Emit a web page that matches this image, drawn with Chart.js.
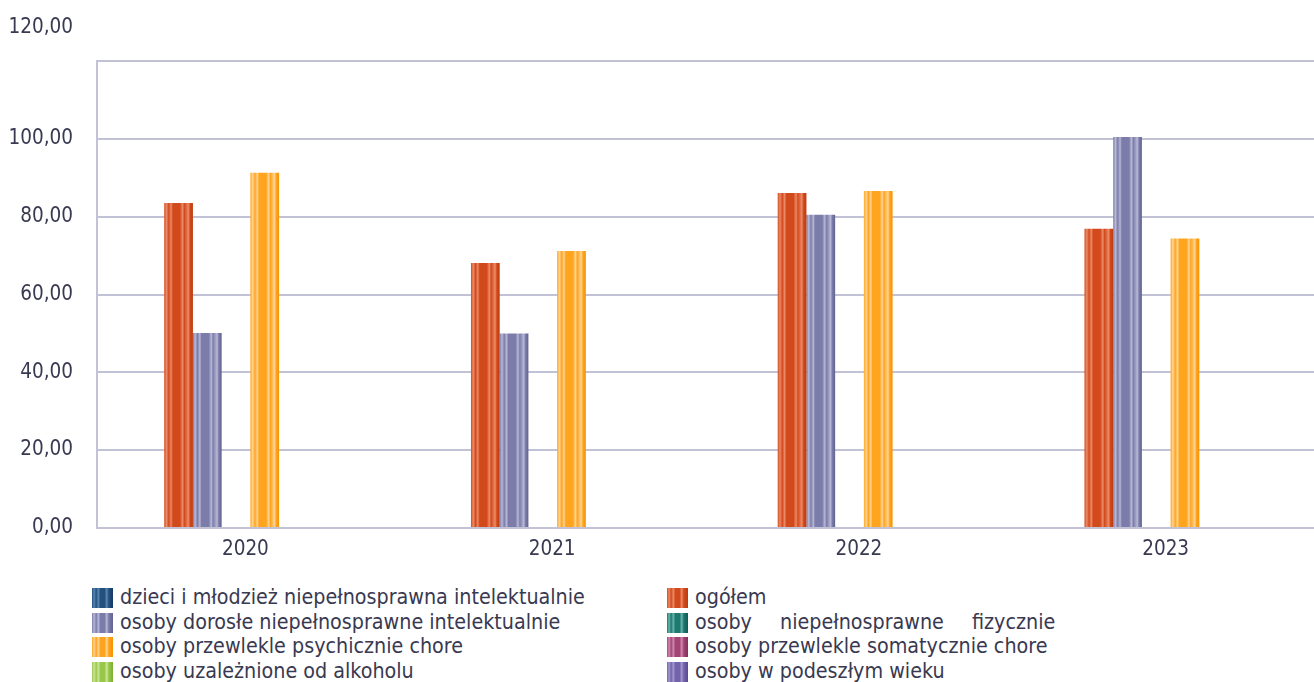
<!DOCTYPE html>
<html lang="pl">
<head>
<meta charset="utf-8">
<script src="https://cdn.jsdelivr.net/npm/chart.js@4/dist/chart.umd.min.js"></script>
<style>
  html, body { margin: 0; padding: 0; background: #fff; }
  body { width: 1314px; height: 682px; position: relative; overflow: hidden;
         font-family: "DejaVu Sans Condensed", "DejaVu Sans", sans-serif; color: #393951; }
  #wrap { position: absolute; left: 0; top: 0; width: 1324px; height: 575px; }
  #legend { position: absolute; left: 92px; top: 587px; width: 1000px; }
  .item { position: absolute; height: 22px; line-height: 22px; font-size: 21.3px; white-space: nowrap; }
  .sw { position: absolute; left: 0; top: 1px; width: 21px; height: 20px; }
  .lbl { position: absolute; left: 28px; top: -1px; }
</style>
</head>
<body>
<div id="wrap"><canvas id="chart"></canvas></div>
<div id="legend"></div>
<script>
(() => {
  "use strict";

  const years = ["2020", "2021", "2022", "2023"];
  const seriesNames = [
    "dzieci i młodzież niepełnosprawna intelektualnie",
    "ogółem",
    "osoby dorosłe niepełnosprawne intelektualnie",
    "osoby niepełnosprawne fizycznie",
    "osoby przewlekle psychicznie chore",
    "osoby przewlekle somatycznie chore",
    "osoby uzależnione od alkoholu",
    "osoby w podeszłym wieku",
  ];
  // bar colours: [light, mid, dark]
  const seriesColors = [
    ["#5a86b4", "#24507e", "#163a60"],
    ["#ec8a68", "#d24a1c", "#bc3a0e"],
    ["#b8b8d6", "#7c7caa", "#62628e"],
    ["#6ab4aa", "#1e7a70", "#125a52"],
    ["#ffd494", "#ffa41e", "#f59400"],
    ["#d08ab0", "#a24474", "#84305a"],
    ["#cce69a", "#98c84a", "#7cac30"],
    ["#a498d0", "#7264aa", "#584a90"],
  ];
  const dzieci = [null, null, null, null];
  const ogolem = [83.5, 68.1, 86.1, 76.9];
  const dorosle = [50.1, 50.0, 80.5, 100.5];
  const fizycznie = [null, null, null, null];
  const psychicznie = [91.3, 71.2, 86.6, 74.4];
  const somatycznie = [null, null, null, null];
  const alkohol = [null, null, null, null];
  const podeszly = [null, null, null, null];
  const yTicks = [0, 20, 40, 60, 80, 100, 120];

  const values = [dzieci, ogolem, dorosle, fizycznie, psychicznie, somatycznie, alkohol, podeszly];

  function stripe(ctx, x0, x1, c) {
    const g = ctx.createLinearGradient(x0, 0, x1, 0);
    g.addColorStop(0, c[1]);
    g.addColorStop(0.08, c[0]);
    g.addColorStop(0.16, c[1]);
    g.addColorStop(0.24, c[0]);
    g.addColorStop(0.3, c[1]);
    g.addColorStop(0.55, c[1]);
    g.addColorStop(0.64, c[0]);
    g.addColorStop(0.7, c[1]);
    g.addColorStop(0.84, c[0]);
    g.addColorStop(0.9, c[1]);
    g.addColorStop(1, c[2]);
    return g;
  }

  const datasets = seriesNames.map((name, i) => ({
    label: name,
    data: values[i],
    // scriptable so every bar gets its own options object
    backgroundColor: () => seriesColors[i][1],
    borderWidth: 0,
    categoryPercentage: 0.749,
    barPercentage: 1,
  }));

  const fmt = (v) => v.toFixed(2).replace(".", ",");
  const textColor = "#393951";
  const gridColor = "#c2c2d6";
  const fontFamily = '"DejaVu Sans Condensed", "DejaVu Sans", sans-serif';

  // striped fill, built from each bar's own geometry
  const stripes = {
    id: "stripes",
    beforeDatasetsDraw(chart) {
      chart.data.datasets.forEach((ds, i) => {
        chart.getDatasetMeta(i).data.forEach((bar) => {
          if (bar.width) {
            bar.options.backgroundColor = stripe(chart.ctx, bar.x - bar.width / 2, bar.x + bar.width / 2, seriesColors[i]);
          }
        });
      });
    },
  };

  // the top tick label sits well above the plot frame in the original
  const topLabel = {
    id: "topLabel",
    afterDraw(chart) {
      const y = chart.scales.y;
      const c = chart.ctx;
      c.save();
      c.font = "20.5px " + fontFamily;
      c.fillStyle = textColor;
      c.textAlign = "right";
      c.textBaseline = "middle";
      c.fillText(fmt(120), y.right - 24, y.getPixelForValue(120) - 33);
      c.restore();
    },
  };

  const ctx = document.getElementById("chart");
  new Chart(ctx, {
    type: "bar",
    data: { labels: years, datasets },
    plugins: [stripes, topLabel],
    options: {
      responsive: true,
      maintainAspectRatio: false,
      animation: false,
      layout: { padding: { top: 61, right: 0, bottom: 0, left: 0 } },
      plugins: { legend: { display: false }, tooltip: { enabled: false } },
      scales: {
        x: {
          grid: { display: false, drawTicks: false },
          border: { color: gridColor, width: 2 },
          ticks: { color: textColor, font: { size: 20.5, family: fontFamily }, padding: 9, labelOffset: -5 },
          afterFit: (s) => { s.height = 47; },
        },
        y: {
          min: 0,
          max: 120,
          afterBuildTicks: (s) => { s.ticks = yTicks.map((v) => ({ value: v })); },
          grid: { color: gridColor, lineWidth: 2, drawTicks: false },
          border: { color: gridColor, width: 2 },
          ticks: {
            color: textColor,
            font: { size: 20.5, family: fontFamily },
            padding: 24,
            callback: (v) => (v === 120 ? "" : fmt(v)),
          },
          afterFit: (s) => { s.width = 97; },
        },
      },
    },
  });

  // two-column legend, filled row by row
  const legend = document.getElementById("legend");
  seriesNames.forEach((name, i) => {
    const c = seriesColors[i];
    const item = document.createElement("div");
    item.className = "item";
    item.style.left = (i % 2 === 0 ? 0 : 575) + "px";
    item.style.top = Math.floor(i / 2) * 24.7 + "px";
    const sw = document.createElement("div");
    sw.className = "sw";
    sw.style.background = `linear-gradient(90deg, ${c[1]} 0%, ${c[0]} 10%, ${c[1]} 20%, ${c[0]} 30%, ${c[1]} 40%, ${c[1]} 60%, ${c[0]} 70%, ${c[1]} 80%, ${c[2]} 100%)`;
    const lbl = document.createElement("span");
    lbl.className = "lbl";
    lbl.textContent = name;
    if (i === 3) lbl.style.wordSpacing = "22px";
    item.appendChild(sw);
    item.appendChild(lbl);
    legend.appendChild(item);
  });
})();
</script>
</body>
</html>
